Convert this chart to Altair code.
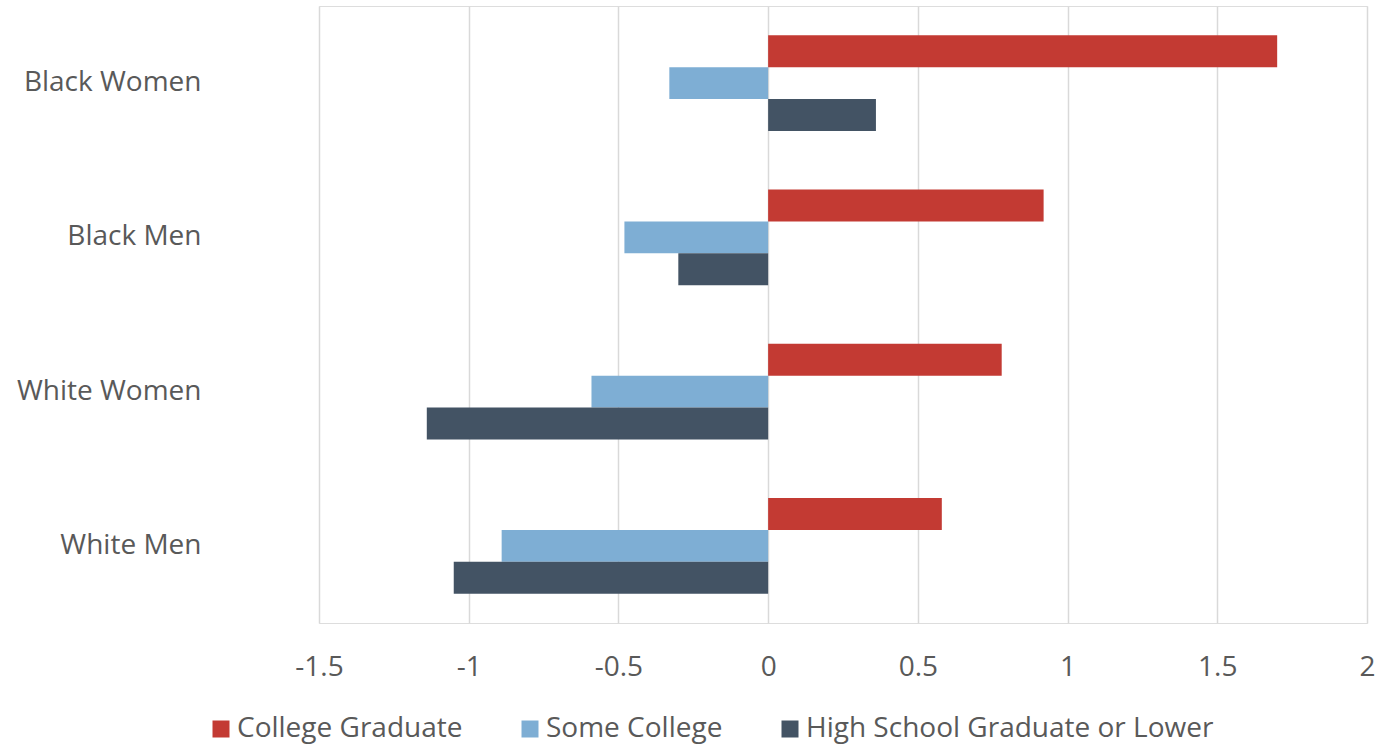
import altair as alt
import pandas as pd

# Groups (top to bottom) and education levels (within each group, top to bottom)
groups = ["Black Women", "Black Men", "White Women", "White Men"]
levels = ["College Graduate", "Some College", "High School Graduate or Lower"]

# Values per level, listed in the same order as `groups`
college_graduate = [1.70, 0.92, 0.78, 0.58]
some_college = [-0.33, -0.48, -0.59, -0.89]
high_school_or_lower = [0.36, -0.30, -1.14, -1.05]

colors = ["#C33A33", "#7EAED4", "#435364"]
x_ticks = [-1.5, -1, -0.5, 0, 0.5, 1, 1.5, 2]

rows = []
for level, series in zip(levels, [college_graduate, some_college, high_school_or_lower]):
    for g, v in zip(groups, series):
        rows.append({"group": g, "level": level, "value": v})
df = pd.DataFrame(rows)

FONT = "Open Sans"
TEXT = "#595959"
SIZE = 28

chart = (
    alt.Chart(df)
    .mark_bar()
    .encode(
        x=alt.X(
            "value:Q",
            scale=alt.Scale(domain=[-1.5, 2], nice=False, zero=False),
            axis=alt.Axis(
                values=x_ticks,
                title=None,
                domain=False,
                ticks=False,
                grid=True,
                gridColor="#D9D9D9",
                gridWidth=1.5,
                labelFont=FONT,
                labelFontSize=SIZE,
                labelColor=TEXT,
                labelPadding=30,
                labelExpr="datum.value",
                labelFlush=False,
            ),
        ),
        y=alt.Y(
            "group:N",
            sort=groups,
            scale=alt.Scale(paddingInner=0.378, paddingOuter=0.189),
            axis=alt.Axis(
                title=None,
                domain=False,
                ticks=False,
                grid=False,
                labelFont=FONT,
                labelFontSize=SIZE,
                labelColor=TEXT,
                labelPadding=118,
                labelAlign="right",
                labelLimit=400,
            ),
        ),
        yOffset=alt.YOffset("level:N", sort=levels),
        color=alt.Color(
            "level:N",
            sort=levels,
            scale=alt.Scale(domain=levels, range=colors),
            legend=alt.Legend(
                title=None,
                orient="none",
                direction="horizontal",
                legendX=-112,
                legendY=709,
                symbolType="square",
                symbolSize=289,
                symbolStrokeWidth=0,
                symbolOpacity=1,
                labelFont=FONT,
                labelFontSize=SIZE,
                labelColor=TEXT,
                labelOffset=2,
                columnPadding=53,
                padding=0,
                labelLimit=600,
            ),
        ),
    )
    .properties(
        width=1048,
        height=617,
        padding={"left": 319, "top": 6, "right": 10, "bottom": 121},
        autosize=alt.AutoSizeParams(type="none"),
    )
    .configure_view(stroke=None)
    .configure(background="white")
)

chart.save("out.html", embed_options={"renderer": "svg", "actions": False})
